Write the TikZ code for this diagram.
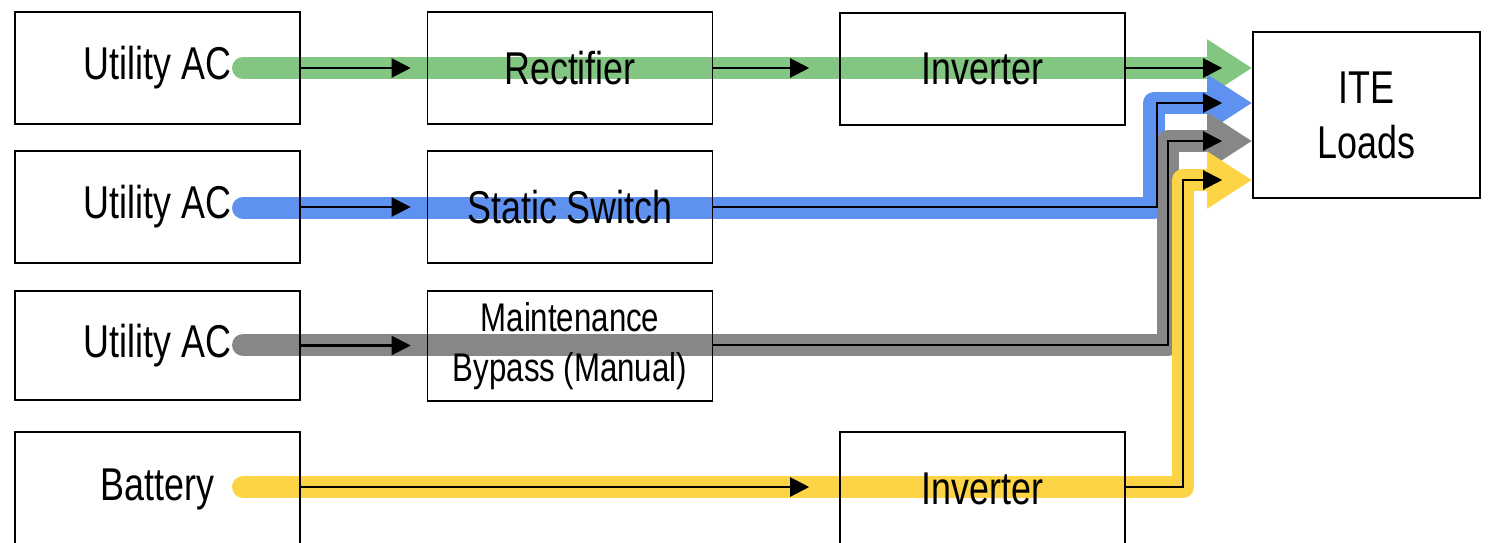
\documentclass[tikz,border=0pt]{standalone}
\usepackage{fontspec}
\setmainfont{Liberation Sans}[FakeStretch=0.78]
\usetikzlibrary{arrows.meta}
\definecolor{bgreen}{RGB}{130,198,130}
\definecolor{bblue}{RGB}{95,145,240}
\definecolor{bgray}{RGB}{135,135,135}
\definecolor{byellow}{RGB}{252,212,70}
\begin{document}
\begin{tikzpicture}[x=0.5pt,y=-0.5pt,
  box/.style={draw=black, line width=0.8pt, minimum width=142.5pt, minimum height=56pt,
    inner sep=0pt, font=\fontsize{23}{27.5}\selectfont, align=center},
  band/.style={line width=11pt, line join=round, line cap=round, draw=#1,
    -{Triangle[length=22.5pt,width=27pt,fill=#1,color=#1]}},
  flow/.style={line width=1.1pt, draw=black, -{Triangle[length=9.5pt,width=9.5pt]}},
]
\useasboundingbox (0,0) rectangle (1492,542);
\clip (0,0) rectangle (1492,542);

% band coordinates
\coordinate (g0) at (243,68);
\coordinate (b0) at (243,208);
\coordinate (b1) at (1154,208);
\coordinate (b2) at (1154,103);
\coordinate (k0) at (243,345);
\coordinate (k1) at (1168,345);
\coordinate (k2) at (1168,141);
\coordinate (y0) at (243,487);
\coordinate (y1) at (1183,487);
\coordinate (y2) at (1183,180);

% ITE box first (needed for anchors)
\node[box, minimum width=113.5pt, minimum height=83pt] (ite) at (1366.5,115) {ITE\\Loads};

% colored bands
\draw[band=bgreen] (g0) -- (ite.west |- g0);
\draw[band=bblue] (b0) -- (b1) -- (b2) -- (ite.west |- b2);
\draw[band=bgray] (k0) -- (k1) -- (k2) -- (ite.west |- k2);
\draw[band=byellow] (y0) -- (y1) -- (y2) -- (ite.west |- y2);

% boxes
\node[box] (u1) at (157.5,68) {Utility AC};
\node[box] (u2) at (157.5,207) {Utility AC};
\node[box, minimum height=54.5pt] (u3) at (157.5,345.5) {Utility AC};
\node[box, minimum height=57pt] (bat) at (157.5,489) {Battery};

\node[box] (rect) at (570,68) {Rectifier};
\node[box] (ss) at (570,207) {Static Switch};
\node[box, minimum height=55pt, font=\fontsize{20}{25}\selectfont] (mb) at (570,346) {Maintenance\\Bypass (Manual)};

\node[box] (inv1) at (982.5,69) {Inverter};
\node[box, minimum height=57pt] (inv2) at (982.5,489) {Inverter};

% thin black flow lines
\coordinate (bb1) at (1157,207);
\coordinate (bb2) at (1157,103);
\coordinate (kk1) at (1168,345);
\coordinate (kk2) at (1168,141);
\coordinate (yy1) at (1183,487);
\coordinate (yy2) at (1183,180);

\draw[flow, shorten >=8pt] (u1.east) -- (rect.west);
\draw[flow, shorten >=15pt] (rect.east) -- (inv1.west |- rect.east);
\draw[flow, shorten >=15pt] (inv1.east |- g0) -- (ite.west |- g0);

\draw[flow, shorten >=8pt] (u2.east) -- (ss.west);
\draw[flow, shorten >=15pt] (ss.east) -- (bb1) -- (bb2) -- (ite.west |- bb2);

\draw[flow, shorten >=8pt] (u3.east) -- (mb.west |- u3.east);
\draw[flow, shorten >=15pt] (mb.east |- kk1) -- (kk1) -- (kk2) -- (ite.west |- kk2);

\draw[flow, shorten >=15pt] (bat.east |- y0) -- (inv2.west |- y0);
\draw[flow, shorten >=15pt] (inv2.east |- yy1) -- (yy1) -- (yy2) -- (ite.west |- yy2);
\end{tikzpicture}
\end{document}
